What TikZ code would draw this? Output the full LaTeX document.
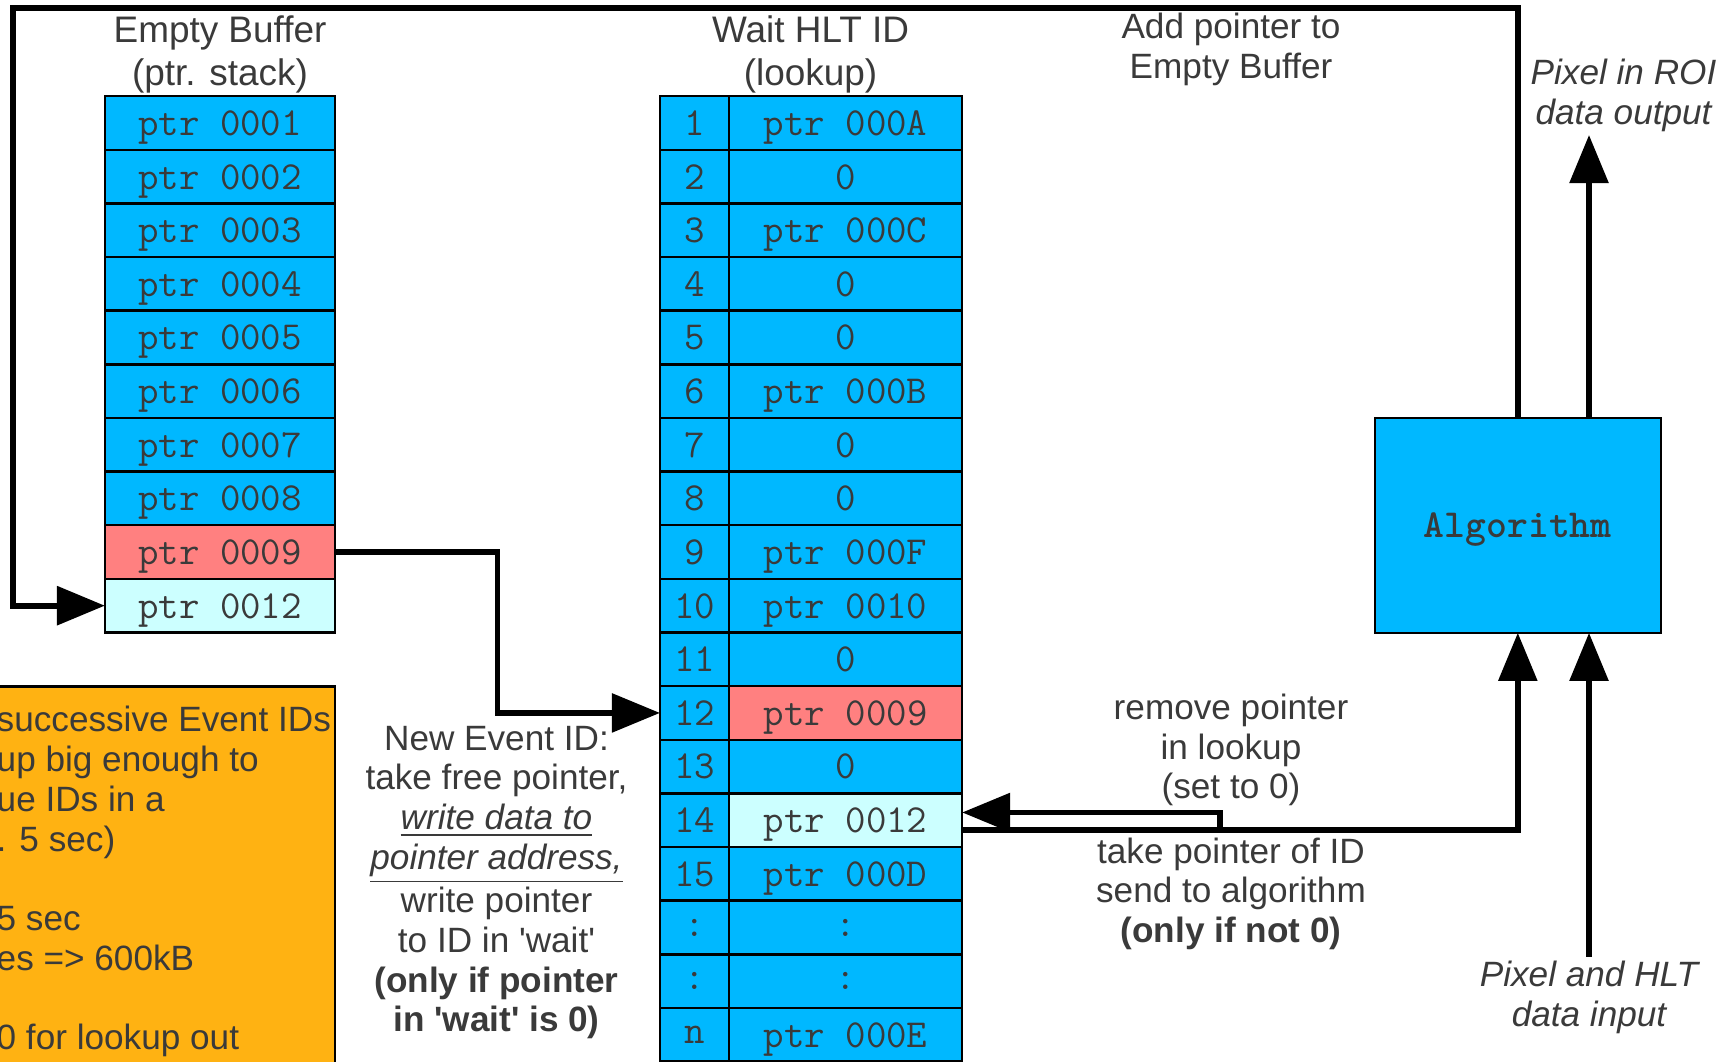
\documentclass[tikz,border=0pt]{standalone}
\usepackage{fontspec}
\setmainfont{Liberation Sans}
\usepackage{xcolor}
\usepackage{tikz}
\usetikzlibrary{arrows.meta, positioning}

\definecolor{cellblue}{RGB}{0,184,255}
\definecolor{cellred}{RGB}{255,128,128}
\definecolor{cellpale}{RGB}{204,255,255}
\definecolor{noteorange}{RGB}{255,178,18}
\definecolor{txtgray}{RGB}{58,58,58}

\begin{document}
\begin{tikzpicture}[x=0.01cm, y=-0.01cm,
    cell/.style={draw, line width=0.7pt, outer sep=0pt, inner sep=0pt, fill=cellblue, minimum height=0.536cm, text depth=0pt, text=txtgray, font=\ttfamily\fontsize{11.3}{13}\selectfont},
    buf/.style={cell, minimum width=2.30cm},
    idx/.style={cell, minimum width=0.69cm},
    val/.style={cell, minimum width=2.33cm},
    taken/.style={fill=cellred},
    fresh/.style={fill=cellpale},
    title/.style={align=center, text=txtgray, inner sep=0pt, anchor=base, font=\fontsize{10.5}{12.2}\selectfont},
    lbl/.style={align=center, text=txtgray, inner sep=0pt, anchor=base, font=\fontsize{10}{11.3}\selectfont},
    ital/.style={lbl, font=\fontsize{10}{11.3}\selectfont\itshape},
    note/.style={draw, line width=0.7pt, fill=noteorange, outer sep=0pt},
    algobox/.style={draw, line width=0.7pt, fill=cellblue, outer sep=0pt, minimum width=2.86cm, minimum height=2.15cm, text depth=0pt, text=txtgray, font=\ttfamily\bfseries\fontsize{11.3}{13}\selectfont},
    arr/.style={-{Triangle[length=0.48cm, width=0.38cm]}, line width=1.6pt},
]
\useasboundingbox (0,0) rectangle (1734,1061);
\clip (0,0) rectangle (1734,1061);

% Empty buffer (pointer stack)
\node[title] (buftitle) at (220,85.9) {Empty Buffer\\(ptr. stack)};
\node[buf] (b1) at (220,123) {ptr 0001};
\node[buf, below=0pt of b1] (b2) {ptr 0002};
\node[buf, below=0pt of b2] (b3) {ptr 0003};
\node[buf, below=0pt of b3] (b4) {ptr 0004};
\node[buf, below=0pt of b4] (b5) {ptr 0005};
\node[buf, below=0pt of b5] (b6) {ptr 0006};
\node[buf, below=0pt of b6] (b7) {ptr 0007};
\node[buf, below=0pt of b7] (b8) {ptr 0008};
\node[buf, taken, below=0pt of b8] (b9) {ptr 0009};
\node[buf, fresh, below=0pt of b9] (b10) {ptr 0012};

% Wait HLT ID lookup
\node[title] (luttitle) at (810.6,85.9) {Wait HLT ID\\(lookup)};
\node[idx] (i1) at (694.5,123) {1}; \node[val, right=0pt of i1] (v1) {ptr 000A};
\node[idx, below=0pt of i1] (i2) {2}; \node[val, right=0pt of i2] (v2) {0};
\node[idx, below=0pt of i2] (i3) {3}; \node[val, right=0pt of i3] (v3) {ptr 000C};
\node[idx, below=0pt of i3] (i4) {4}; \node[val, right=0pt of i4] (v4) {0};
\node[idx, below=0pt of i4] (i5) {5}; \node[val, right=0pt of i5] (v5) {0};
\node[idx, below=0pt of i5] (i6) {6}; \node[val, right=0pt of i6] (v6) {ptr 000B};
\node[idx, below=0pt of i6] (i7) {7}; \node[val, right=0pt of i7] (v7) {0};
\node[idx, below=0pt of i7] (i8) {8}; \node[val, right=0pt of i8] (v8) {0};
\node[idx, below=0pt of i8] (i9) {9}; \node[val, right=0pt of i9] (v9) {ptr 000F};
\node[idx, below=0pt of i9] (i10) {10}; \node[val, right=0pt of i10] (v10) {ptr 0010};
\node[idx, below=0pt of i10] (i11) {11}; \node[val, right=0pt of i11] (v11) {0};
\node[idx, below=0pt of i11] (i12) {12}; \node[val, taken, right=0pt of i12] (v12) {ptr 0009};
\node[idx, below=0pt of i12] (i13) {13}; \node[val, right=0pt of i13] (v13) {0};
\node[idx, below=0pt of i13] (i14) {14}; \node[val, fresh, right=0pt of i14] (v14) {ptr 0012};
\node[idx, below=0pt of i14] (i15) {15}; \node[val, right=0pt of i15] (v15) {ptr 000D};
\node[idx, below=0pt of i15] (i16) {:}; \node[val, right=0pt of i16] (v16) {:};
\node[idx, below=0pt of i16] (i17) {:}; \node[val, right=0pt of i17] (v17) {:};
\node[idx, below=0pt of i17] (in) {n}; \node[val, right=0pt of in] (vn) {ptr 000E};

% Algorithm
\node[algobox] (algo) at (1517.8,525.3) {Algorithm};

% Note box (cut at the left)
\node[note, anchor=north east, minimum width=3.8cm, minimum height=4cm] (notebox) at (335,686.7) {};
\node[lbl, align=left, anchor=base west] (notetext) at (-4,1049.7) {successive Event IDs\\up big enough to\\ue IDs in a\\. 5 sec)\\[11.3pt]5 sec\\es => 600kB\\[11.3pt]0 for lookup out};

% Labels
\node[lbl] (newtext) at (496.5,1031.9) {New Event ID:\\take free pointer,\\\textit{\underline{write data to}}\\\textit{\underline{pointer address,}}\\write pointer\\to ID in \textquotesingle wait\textquotesingle\\\textbf{(only if pointer}\\\textbf{in \textquotesingle wait\textquotesingle{} is 0)}};
\node[lbl] (addlbl) at (1231,78.5) {Add pointer to\\Empty Buffer};
\node[lbl] (removelbl) at (1231,798.9) {remove pointer\\in lookup\\(set to 0)};
\node[lbl] (takelbl) at (1231,942.5) {take pointer of ID\\send to algorithm\\\textbf{(only if not 0)}};
\node[ital] (outlbl) at (1623.5,124.4) {Pixel in ROI\\data output};
\node[ital] (inlbl) at (1589,1026.4) {Pixel and HLT\\data input};

% Connectors
\coordinate (corner) at (13.3,7.7);
\draw[arr, line width=1.8pt] (algo.north) |- (corner) |- (b10.west);
\draw[arr] (b9.east) -- ++(162.6,0) |- (i12.west);
\coordinate (outtip) at (1589,135);
\draw[arr] (algo.north -| outtip) -- (outtip);
\coordinate (insrc) at (1589,956.6);
\draw[arr] (insrc) -- (algo.south -| insrc);
\draw[arr] ([yshift=-2.8pt]v14.east) -| (algo.south);
\coordinate (split) at (1220,829.7);
\draw[arr] (split) |- ([yshift=2.2pt]v14.east);

\end{tikzpicture}
\end{document}
